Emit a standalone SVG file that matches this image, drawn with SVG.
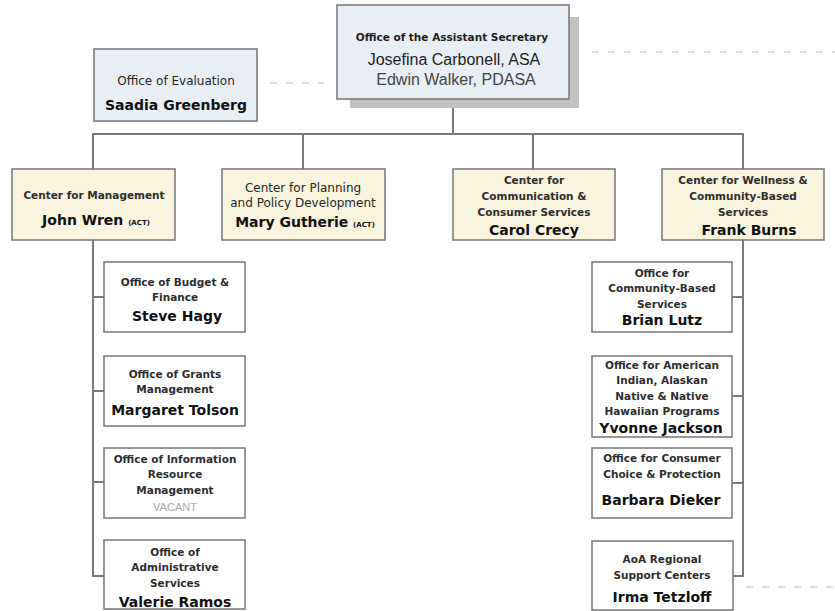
<svg xmlns="http://www.w3.org/2000/svg" width="835" height="611" viewBox="0 0 835 611">
<style>
.bg{fill:#ffffff}
.box{stroke:#767676;stroke-width:1.5}
.blue{fill:#e9eef4}
.cream{fill:#f8f4dd}
.white{fill:#ffffff}
.shadow{fill:#c2c2c2}
.conn{fill:none;stroke:#7a7a7a;stroke-width:2}
.dash{fill:none;stroke:#bdbdbd;stroke-width:1.2;stroke-dasharray:7 9}
.lbl{font-family:"DejaVu Sans",Verdana,sans-serif;font-weight:bold;font-size:10.5px;fill:#2e2e2e;text-anchor:middle}
.rlbl{font-family:"DejaVu Sans",Verdana,sans-serif;font-size:12px;fill:#262626;text-anchor:middle}
.name{font-family:"DejaVu Sans",Verdana,sans-serif;font-weight:bold;font-size:14px;fill:#111;text-anchor:middle}
.act{font-size:7px}
.reg{font-family:"Liberation Sans",Arial,sans-serif;font-size:16px;text-anchor:middle}
.vac{font-family:"Liberation Sans",Arial,sans-serif;font-size:11px;fill:#aaaaaa;text-anchor:middle}
</style>
<rect class="bg" x="0" y="0" width="835" height="611"/>
<g id="connectors">
<line class="dash" x1="592" y1="52" x2="835" y2="52"/>
<line class="dash" x1="270" y1="83" x2="324" y2="83"/>
<line class="dash" x1="746" y1="587" x2="835" y2="587"/>
<path class="conn" d="M453 99 V134 M93 169 V134 H743 V169 M303 134 V169 M533 134 V169"/>
<path class="conn" d="M93 240 V576 H104 M93 297 H104 M93 391 H104 M93 482 H104"/>
<path class="conn" d="M743 240 V576 H732 M743 297 H732 M743 396 H732 M743 483 H732"/>
</g>
<g id="asa">
<rect class="shadow" x="350" y="17" width="229" height="91"/>
<rect class="box blue" x="337" y="5" width="232" height="94"/>
<text class="lbl" x="452" y="41" style="fill:#1e1e1e">Office of the Assistant Secretary</text>
<text class="reg" x="454" y="65" fill="#1e1e1e">Josefina Carbonell, ASA</text>
<text class="reg" x="456" y="85" fill="#444">Edwin Walker, PDASA</text>
</g>
<g id="evaluation">
<rect class="box blue" x="94" y="49" width="163" height="72"/>
<text class="rlbl" x="176" y="85">Office of Evaluation</text>
<text class="name" x="176" y="110">Saadia Greenberg</text>
</g>
<g id="cm">
<rect class="box cream" x="12" y="169" width="163" height="71"/>
<text class="lbl" x="94" y="199">Center for Management</text>
<text class="name" x="96" y="225">John Wren <tspan class="act">(ACT)</tspan></text>
</g>
<g id="cppd">
<rect class="box cream" x="222" y="169" width="163" height="71"/>
<text class="rlbl" x="303" y="192">Center for Planning</text>
<text class="rlbl" x="303" y="207">and Policy Development</text>
<text class="name" x="305" y="227">Mary Gutherie <tspan class="act">(ACT)</tspan></text>
</g>
<g id="cccs">
<rect class="box cream" x="453" y="169" width="162" height="71"/>
<text class="lbl" x="534" y="184">Center for</text>
<text class="lbl" x="534" y="200">Communication &amp;</text>
<text class="lbl" x="534" y="216">Consumer Services</text>
<text class="name" x="534" y="235">Carol Crecy</text>
</g>
<g id="cwcbs">
<rect class="box cream" x="662" y="169" width="162" height="71"/>
<text class="lbl" x="743" y="184">Center for Wellness &amp;</text>
<text class="lbl" x="743" y="200">Community-Based</text>
<text class="lbl" x="743" y="216">Services</text>
<text class="name" x="749" y="235">Frank Burns</text>
</g>
<g id="budget">
<rect class="box white" x="104" y="262" width="141" height="70"/>
<text class="lbl" x="175" y="286">Office of Budget &amp;</text>
<text class="lbl" x="175" y="301">Finance</text>
<text class="name" x="177" y="321">Steve Hagy</text>
</g>
<g id="grants">
<rect class="box white" x="104" y="356" width="141" height="70"/>
<text class="lbl" x="175" y="378">Office of Grants</text>
<text class="lbl" x="175" y="393">Management</text>
<text class="name" x="175" y="415">Margaret Tolson</text>
</g>
<g id="irm">
<rect class="box white" x="104" y="448" width="141" height="70"/>
<text class="lbl" x="175" y="463">Office of Information</text>
<text class="lbl" x="175" y="478">Resource</text>
<text class="lbl" x="175" y="494">Management</text>
<text class="vac" x="175" y="511">VACANT</text>
</g>
<g id="admin">
<rect class="box white" x="104" y="540" width="141" height="69"/>
<text class="lbl" x="175" y="556">Office of</text>
<text class="lbl" x="175" y="571">Administrative</text>
<text class="lbl" x="175" y="587">Services</text>
<text class="name" x="175" y="607">Valerie Ramos</text>
</g>
<g id="cbs">
<rect class="box white" x="592" y="262" width="140" height="70"/>
<text class="lbl" x="662" y="277">Office for</text>
<text class="lbl" x="662" y="292">Community-Based</text>
<text class="lbl" x="662" y="308">Services</text>
<text class="name" x="662" y="325">Brian Lutz</text>
</g>
<g id="native">
<rect class="box white" x="592" y="356" width="140" height="81"/>
<text class="lbl" x="662" y="369">Office for American</text>
<text class="lbl" x="662" y="384">Indian, Alaskan</text>
<text class="lbl" x="662" y="400">Native &amp; Native</text>
<text class="lbl" x="662" y="415">Hawaiian Programs</text>
<text class="name" x="661" y="433">Yvonne Jackson</text>
</g>
<g id="consumer">
<rect class="box white" x="592" y="448" width="140" height="70"/>
<text class="lbl" x="662" y="462">Office for Consumer</text>
<text class="lbl" x="662" y="478">Choice &amp; Protection</text>
<text class="name" x="661" y="505">Barbara Dieker</text>
</g>
<g id="regional">
<rect class="box white" x="592" y="541" width="141" height="69"/>
<text class="lbl" x="662" y="563">AoA Regional</text>
<text class="lbl" x="662" y="579">Support Centers</text>
<text class="name" x="662" y="602">Irma Tetzloff</text>
</g>
</svg>
